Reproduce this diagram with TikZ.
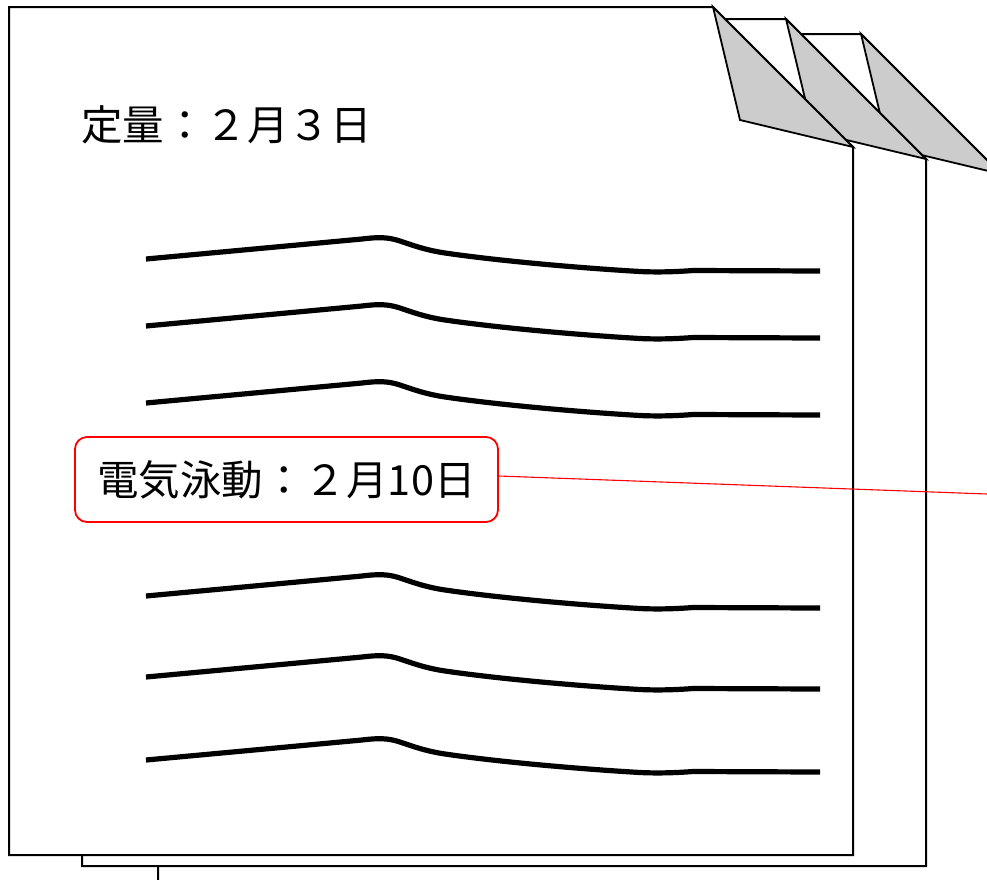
\documentclass[tikz,border=0pt]{standalone}
\usepackage{fontspec}
\setmainfont{Noto Sans CJK JP}
\usetikzlibrary{calc}
\definecolor{flapgray}{HTML}{CCCCCC}
\tikzset{
  pagebox/.style={draw=black,fill=white,line width=2pt},
  flapbox/.style={draw=black,fill=flapgray,line width=1.8pt,line join=miter},
  waveline/.style={draw=black,line width=5.2pt},
  labelbox/.style={draw=red,fill=white,line width=1.8pt,rounded corners=12pt,
    minimum width=423pt,minimum height=85pt,inner sep=0pt,font=\fontsize{41.5}{44}\selectfont},
  titletext/.style={anchor=west,inner sep=0pt,font=\fontsize{41.5}{44}\selectfont},
  wave/.pic={\draw[waveline] (0,0) -- (216,-20) .. controls (232,-22) and (242,-22) .. (254,-18)
     .. controls (266,-14) and (279,-9) .. (299,-6)
     .. controls (354,2) and (434,9) .. (494,12.5)
     .. controls (514,13.5) and (534,12.5) .. (547,11.5) -- (674,12);}
}
\begin{document}
\begin{tikzpicture}[x=1pt,y=-1pt]
\useasboundingbox (0,0) rectangle (987,879);
\clip (0,0) rectangle (987,879);
% page 3 (back)
\draw[pagebox] (158,34) -- (861,34) -- (1001,174) -- (1001,881) -- (158,881) -- cycle;
\draw[flapbox] (861,34) -- (888,147) -- (1001,174) -- cycle;
% page 2
\draw[pagebox] (82,19) -- (786,19) -- (926,159) -- (926,866) -- (82,866) -- cycle;
\draw[flapbox] (786,19) -- (813,132) -- (926,159) -- cycle;
% page 1 (front)
\draw[pagebox] (9,7) -- (713,7) -- (853,147) -- (853,855) -- (9,855) -- cycle;
\draw[flapbox] (713,7) -- (740,120) -- (853,147) -- cycle;
% title
\node[titletext] (title) at (81,125) {定量：２月３日};
% wave lines
\foreach \yy [count=\i] in {259,326,403,596,677,760}
  \pic (w\i) at (146,\yy) {wave};
% label
\node[labelbox] (lab) at (286.5,479.5) {\raisebox{-3pt}{電気泳動：２月10日}};
\coordinate (lend) at (987,494);
\draw[red,line width=1.1pt] ([yshift=3.5pt]lab.east) -- (lend);
\end{tikzpicture}
\end{document}
